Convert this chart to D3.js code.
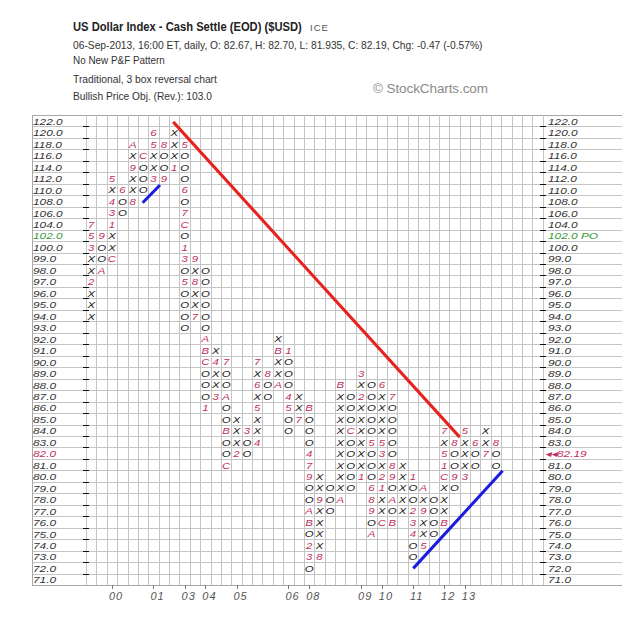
<!DOCTYPE html>
<html><head><meta charset="utf-8">
<script src="https://cdn.jsdelivr.net/npm/d3@7"></script>
<style>body{margin:0;background:#fff;} svg{display:block;}</style>
</head><body><svg id="c" width="622" height="627"></svg>
<script>
// ---------- data ----------
const priceLevels = [122,120,118,116,114,112,110,108,106,104,102,100,
  99,98,97,96,95,94,93,92,91,90,89,88,87,86,85,84,83,82,81,80,79,78,77,76,75,74,73,72,71];
// top box of each P&F column
const columnTops = [104,102,112,110,118,116,120,118,120,118,99,98,91,90,85,84,90,89,92,91,
  87,86,80,79,88,87,89,88,88,87,81,80,79,78,84,83,84,83,84,83];
// box contents of each column from top down (X / O, or month code)
const columnBoxes = ["753XX2XXX","9OOA","5X431XXC","6OO","AX9XX8","COOO","65XX3","8OO9","XXX1",
  "5OOO6O7CO13O5OOOO","9X8XX7","OOOOOOABCOOO1","X4XX3","7OOAOOBOOC","XXX2","3OO","7X6X5XX4","8OO",
  "XBXXA","1OOO45OO","XX7","BOOO479OOABO23O","XX9XXXX8","OOO","BXXXXXXXXXA","OOOCOOOOO","3X2XXXXXX1",
  "OOOOO5OOO689OA","6XXXX53X21XXC","7OOOOO89OAOB","XXXXX","1OO234OO","AX9XX5","OOOO","7X51CXXXB",
  "8OO9O","5XXX3","6OO","XX7","8OO"];
const yearLabels = ["00","01","03","04","05","06","08","09","10","11","12","13"];
const yearColumns = [2,6,9,11,14,19,21,26,28,31,34,36];
// trend lines in (column, box) units
const bearishResistance = [[8.4,0.6],[36.0,28.1]];
const bullishSupport1 = [[5.46,7.65],[7.13,6.1]];
const bullishSupport2 = [[31.53,39.55],[40.14,31.04]];
const priceObjective = 102, lastPrice = 82.19, lastBox = 82;

// ---------- layout ----------
const nCols = 44;
const gx0 = 86, gx1 = 542.7, gy0 = 115, gy1 = 585, labelLeft = 32;
const svg = d3.select("#c");
const x = d3.scaleBand().domain(d3.range(nCols)).range([gx0, gx1]);
const y = d3.scaleBand().domain(priceLevels).range([gy0, gy1]);
const xl = d3.scaleLinear().domain([0, nCols]).range([gx0, gx1]);
const yl = d3.scaleLinear().domain([0, priceLevels.length]).range([gy0, gy1]);
const cw = x.bandwidth(), rh = y.bandwidth();
const FONT = "Liberation Sans, Arial, sans-serif";

// ---------- header ----------
const hdr = svg.append("g").attr("font-family",FONT);
const title = hdr.append("text").attr("x",0).attr("y",0).attr("font-size",13).attr("font-weight","bold")
  .attr("fill","#222").text("US Dollar Index - Cash Settle (EOD) ($USD)");
const tw = title.node().getComputedTextLength();
title.attr("transform",`translate(73,31) scale(${229/tw},1)`);
hdr.append("text").attr("x",310).attr("y",31).attr("font-size",9.5).attr("fill","#555")
  .attr("letter-spacing",1).text("ICE");
const sub = [
  ["06-Sep-2013, 16:00 ET, daily, O: 82.67, H: 82.70, L: 81.935, C: 82.19, Chg: -0.47 (-0.57%)",48.5,410],
  ["No New P&F Pattern",64,92],
  ["Traditional, 3 box reversal chart",82.5,144],
  ["Bullish Price Obj. (Rev.): 103.0",100,139]];
hdr.selectAll("text.sub").data(sub).join("text").attr("class","sub")
  .attr("font-size",10.3).attr("fill","#333").text(d=>d[0])
  .each(function(d){
    const w = this.getComputedTextLength();
    d3.select(this).attr("transform",`translate(73,${d[1]}) scale(${d[2]/w},1)`);
  });
hdr.append("text").attr("x",373).attr("y",93).attr("font-size",13.5).attr("fill","#8a8a8a")
  .attr("textLength",115).attr("lengthAdjust","spacing").text("\u00A9 StockCharts.com");

// ---------- grid ----------
const grid = svg.append("g").attr("shape-rendering","crispEdges");
grid.selectAll("line.h").data(d3.range(priceLevels.length+1)).join("line")
  .attr("x1",labelLeft).attr("x2",622).attr("y1",d=>Math.round(yl(d))+0.5).attr("y2",d=>Math.round(yl(d))+0.5)
  .attr("stroke",(d)=> (d===0||d===priceLevels.length)?"#a8a8a8":"#c4c4c4");
grid.selectAll("line.v").data(d3.range(nCols+1)).join("line")
  .attr("y1",gy0).attr("y2",gy1).attr("x1",d=>Math.round(xl(d))+0.5).attr("x2",d=>Math.round(xl(d))+0.5)
  .attr("stroke","#c4c4c4");
grid.append("line").attr("x1",labelLeft+0.5).attr("x2",labelLeft+0.5).attr("y1",gy0).attr("y2",gy1).attr("stroke","#a8a8a8");
// axis ticks
const inner = d3.range(1, priceLevels.length);
grid.selectAll("line.tl").data(inner).join("line")
  .attr("x1",gx0-3).attr("x2",gx0+3).attr("y1",d=>Math.round(yl(d))+0.5).attr("y2",d=>Math.round(yl(d))+0.5).attr("stroke","#111");
grid.selectAll("line.tr").data(inner).join("line")
  .attr("x1",gx1-3).attr("x2",gx1+3).attr("y1",d=>Math.round(yl(d))+0.5).attr("y2",d=>Math.round(yl(d))+0.5).attr("stroke","#111");
grid.selectAll("line.yt").data(yearColumns).join("line")
  .attr("x1",d=>Math.round(x(d)+cw/2)+0.5).attr("x2",d=>Math.round(x(d)+cw/2)+0.5)
  .attr("y1",gy1).attr("y2",gy1+4).attr("stroke","#777");

// ---------- axis labels ----------
const red = "#c0305e", green = "#3a9a3a";
const LFS = 9.9, LSTRETCH = 1.2;
const lab = svg.append("g").attr("font-family",FONT).attr("font-style","italic").attr("font-size",LFS);
const fmt = v => v.toFixed(1);
function stretch(sel){
  sel.each(function(){
    const w = this.getComputedTextLength();
    d3.select(this).attr("textLength", w*LSTRETCH).attr("lengthAdjust","spacingAndGlyphs");
  });
}
lab.selectAll("text.l").data(priceLevels).join("text").attr("class","l")
  .attr("x",33).attr("y",d=>y(d)+rh-1.6)
  .attr("fill",d=> d===priceObjective?green:(d===lastBox?red:"#333")).text(fmt).call(stretch);
lab.selectAll("text.r").data(priceLevels.filter(d=>d!==lastBox)).join("text").attr("class","r")
  .attr("x",548).attr("y",d=>y(d)+rh-1.6)
  .attr("fill",d=> d===priceObjective?green:"#333")
  .text(d=> d===priceObjective? fmt(d)+" PO" : fmt(d)).call(stretch);
lab.append("text").attr("x",545).attr("y",y(lastBox)+rh-1.6).attr("fill",red)
  .text("\u25C2\u25C2"+lastPrice.toFixed(2)).call(stretch);
lab.selectAll("text.yr").data(yearLabels).join("text").attr("class","yr")
  .attr("x",(d,i)=>x(yearColumns[i])+cw/2-3).attr("y",600).attr("font-size",11).attr("fill","#555")
  .attr("letter-spacing",1).text(d=>d);

// ---------- P&F boxes ----------
const cells = [];
columnBoxes.forEach((s,c)=>{
  const start = priceLevels.indexOf(columnTops[c]);
  s.split("").forEach((ch,k)=> cells.push({c, price: priceLevels[start+k], ch}));
});
svg.append("g").attr("font-family",FONT).attr("font-style","italic")
  .attr("font-size",9.9).attr("text-anchor","middle")
  .selectAll("text").data(cells).join("text")
  .attr("x",d=>x(d.c)+cw/2).attr("y",d=>y(d.price)+rh-1.8)
  .attr("fill",d=> (d.ch==="X"||d.ch==="O")?"#222":red)
  .text(d=>d.ch)
  .each(function(){
    const w = this.getComputedTextLength();
    d3.select(this).attr("textLength", w*1.15).attr("lengthAdjust","spacingAndGlyphs");
  });

// ---------- trend lines ----------
const line = d3.line().x(d=>xl(d[0])).y(d=>yl(d[1]));
svg.append("path").attr("d",line(bearishResistance)).attr("stroke","#e8211c").attr("stroke-width",3).attr("fill","none");
svg.append("path").attr("d",line(bullishSupport1)).attr("stroke","#1c1ce0").attr("stroke-width",3).attr("fill","none");
svg.append("path").attr("d",line(bullishSupport2)).attr("stroke","#1c1ce0").attr("stroke-width",3).attr("fill","none");
</script></body></html>
